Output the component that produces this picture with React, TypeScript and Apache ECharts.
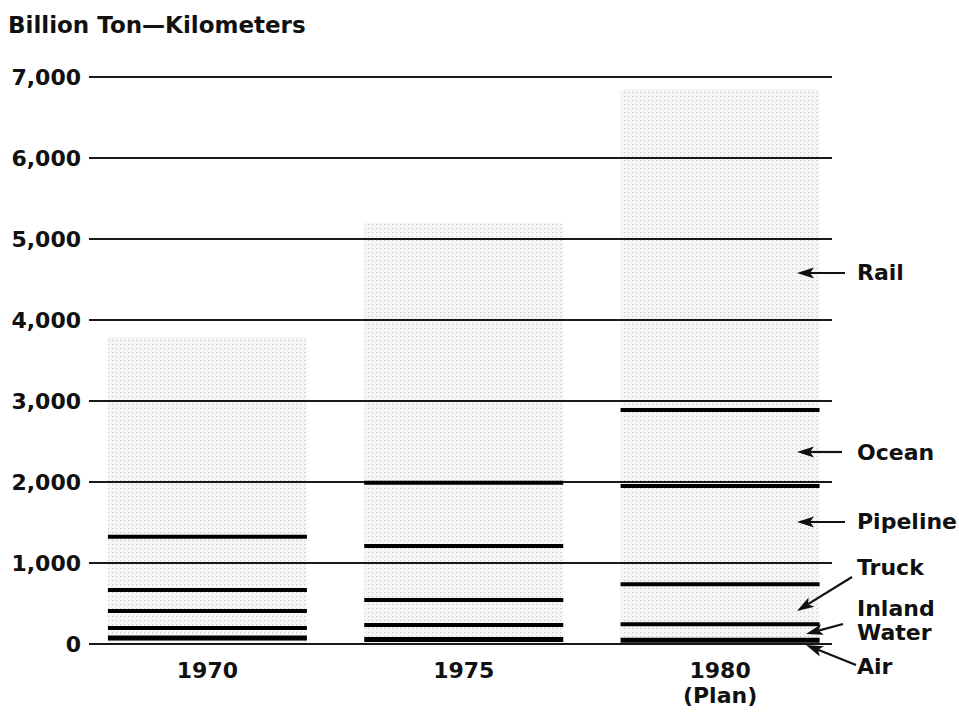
import React, { useEffect, useRef } from 'react';
import * as echarts from 'echarts';

// ---- Data (billion ton-kilometers), stacked from bottom to top ----
const years = ['1970', '1975', '1980\n(Plan)'];
const modes = ['Air', 'Inland Water', 'Truck', 'Pipeline', 'Ocean', 'Rail'];
const air = [74, 55, 45];
const inlandWater = [124, 180, 198];
const truck = [209, 308, 494];
const pipeline = [260, 667, 1214];
const ocean = [658, 780, 938];
const rail = [2465, 3210, 3961];
const yMin = 0;
const yMax = 7000;
const yInterval = 1000;

const FONT = '"DejaVu Sans", "Liberation Sans", sans-serif';
const BAR_WIDTH = 199;

function arrow(x1: number, y1: number, x2: number, y2: number) {
  const dx = x2 - x1;
  const dy = y2 - y1;
  const len = Math.hypot(dx, dy);
  const ux = dx / len;
  const uy = dy / len;
  const hl = 17;
  const hw = 5.5;
  const bx = x2 - ux * hl;
  const by = y2 - uy * hl;
  const px = -uy;
  const py = ux;
  return [
    {
      type: 'line',
      shape: { x1, y1, x2: bx + ux * 4, y2: by + uy * 4 },
      style: { stroke: '#111', lineWidth: 2.2 },
    },
    {
      type: 'polygon',
      shape: {
        points: [
          [x2, y2],
          [bx + px * hw, by + py * hw],
          [bx + ux * 4, by + uy * 4],
          [bx - px * hw, by - py * hw],
        ],
      },
      style: { fill: '#111' },
    },
  ];
}

function label(text: string, x: number, y: number, lineHeight = 24) {
  return {
    type: 'text',
    x,
    y,
    style: {
      text,
      fill: '#111',
      font: `bold 22px ${FONT}`,
      lineHeight,
      align: 'left',
      verticalAlign: 'middle',
    },
  };
}

export default function App() {
  const ref = useRef<HTMLDivElement>(null);

  useEffect(() => {
    document.body.style.margin = '0';
    const chart = echarts.init(ref.current as HTMLDivElement, null, { renderer: 'svg' });
    const seriesValues = [air, inlandWater, truck, pipeline, ocean, rail];

    // segment boundary lines (top of each mode except the top one)
    const boundaries: number[][] = [];
    years.forEach((_, i) => {
      let cum = 0;
      for (let s = 0; s < seriesValues.length - 1; s++) {
        cum += seriesValues[s][i];
        boundaries.push([i, cum, s === 0 ? 5 : 4]);
      }
    });

    const stipple = {
      color: 'rgba(0,0,0,0.04)',
      decal: {
        symbol: 'rect',
        symbolSize: 1,
        dashArrayX: [1, 3],
        dashArrayY: [1, 3],
        color: 'rgba(0,0,0,0.2)',
      },
    };

    const option: any = {
      animation: false,
      backgroundColor: '#fff',
      grid: [
        { left: 89, right: 127, top: 77, bottom: 71 },
        { left: 79.25, right: 110.75, top: 77, bottom: 71 },
      ],
      xAxis: [
        { gridIndex: 0, type: 'value', show: false, min: 0, max: 1 },
        {
          gridIndex: 1,
          type: 'category',
          data: years,
          axisLine: { show: false },
          axisTick: { show: false },
          axisLabel: {
            margin: 14,
            color: '#111',
            fontFamily: FONT,
            fontWeight: 'bold',
            fontSize: 22,
            lineHeight: 25,
          },
        },
      ],
      yAxis: [
        {
          gridIndex: 0,
          type: 'value',
          min: yMin,
          max: yMax,
          interval: yInterval,
          axisLine: { show: false },
          axisTick: { show: false },
          axisLabel: {
            margin: 8,
            color: '#111',
            fontFamily: FONT,
            fontWeight: 'bold',
            fontSize: 22,
            formatter: (v: number) => v.toLocaleString('en-US'),
          },
          splitLine: { show: true, lineStyle: { color: '#1a1a1a', width: 1.8 } },
        },
        {
          gridIndex: 1,
          type: 'value',
          min: yMin,
          max: yMax,
          show: false,
          splitLine: { show: false },
        },
      ],
      series: [
        ...modes.map((name, idx) => ({
          name,
          type: 'bar',
          stack: 'total',
          xAxisIndex: 1,
          yAxisIndex: 1,
          barWidth: BAR_WIDTH,
          data: seriesValues[idx],
          itemStyle: stipple,
          z: 2,
        })),
        {
          type: 'custom',
          xAxisIndex: 1,
          yAxisIndex: 1,
          z: 5,
          data: boundaries,
          encode: { x: 0, y: 1 },
          renderItem: (_params: any, api: any) => {
            const p = api.coord([api.value(0), api.value(1)]);
            return {
              type: 'line',
              shape: {
                x1: p[0] - BAR_WIDTH / 2,
                y1: p[1],
                x2: p[0] + BAR_WIDTH / 2,
                y2: p[1],
              },
              style: { stroke: '#000', lineWidth: api.value(2) },
            };
          },
        },
      ],
      graphic: [
        {
          type: 'text',
          x: 8,
          y: 25,
          style: {
            text: 'Billion Ton—Kilometers',
            fill: '#111',
            font: `bold 23px ${FONT}`,
            align: 'left',
            verticalAlign: 'middle',
          },
        },
        label('Rail', 857, 272),
        label('Ocean', 857, 452),
        label('Pipeline', 857, 521),
        label('Truck', 857, 567),
        label('Inland\nWater', 857, 620, 24),
        label('Air', 857, 666),
        ...arrow(845, 273, 797, 273),
        ...arrow(842, 452, 797, 452),
        ...arrow(845, 522, 797, 522),
        ...arrow(852, 577, 797, 611),
        ...arrow(843, 624, 806, 634),
        ...arrow(856, 665, 806, 645),
      ],
    };

    chart.setOption(option);
    return () => chart.dispose();
  }, []);

  return <div ref={ref} style={{ width: 959, height: 715 }} />;
}
